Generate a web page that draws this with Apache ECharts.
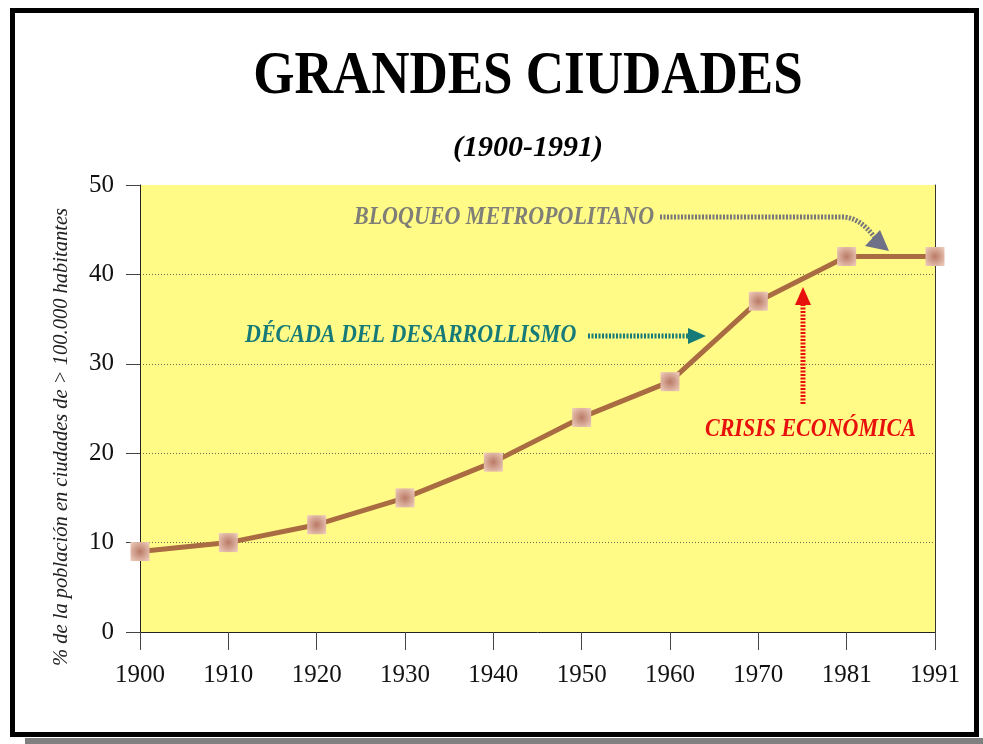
<!DOCTYPE html>
<html>
<head>
<meta charset="utf-8">
<script src="https://cdn.jsdelivr.net/npm/echarts@6/dist/echarts.min.js"></script>
<style>html,body{margin:0;padding:0;background:#fff;}#c{width:983px;height:744px;}</style>
</head>
<body>
<div id="c"></div>
<script>
const years = ['1900','1910','1920','1930','1940','1950','1960','1970','1981','1991'];
const values = [9, 10, 12, 15, 19, 24, 28, 37, 42, 42];
const yTicks = [0, 10, 20, 30, 40, 50];
const titleText = 'GRANDES CIUDADES';
const subtitleText = '(1900-1991)';
const yAxisTitle = '% de la población en ciudades de > 100.000 habitantes';
const noteBloqueo = 'BLOQUEO METROPOLITANO';
const noteDecada = 'DÉCADA DEL DESARROLLISMO';
const noteCrisis = 'CRISIS ECONÓMICA';

const SERIF = '"Liberation Serif", "Times New Roman", serif';
const chart = echarts.init(document.getElementById('c'), null, {renderer: 'canvas'});

const dotted = (color) => ({stroke: color, lineWidth: 5, lineDash: [2, 1.5], fill: null});

const option = {
  backgroundColor: '#ffffff',
  animation: false,
  grid: {
    left: 140, right: 48, top: 185, bottom: 112,
    show: true, backgroundColor: '#FFFB86', borderWidth: 0
  },
  xAxis: {
    type: 'category', data: years, boundaryGap: false,
    axisLine: {lineStyle: {color: '#222', width: 1}},
    axisTick: {show: true, length: 18, alignWithLabel: true, lineStyle: {color: '#444'}},
    axisLabel: {color: '#111', fontFamily: SERIF, fontSize: 25, margin: 31},
    splitLine: {show: false}
  },
  yAxis: [{
    type: 'value', min: yTicks[0], max: yTicks[yTicks.length - 1], interval: 10,
    axisLine: {show: true, lineStyle: {color: '#222', width: 1}},
    axisTick: {show: true, length: 14, lineStyle: {color: '#444'}},
    axisLabel: {color: '#111', fontFamily: SERIF, fontSize: 25, margin: 26},
    splitLine: {show: true, showMinLine: false, showMaxLine: false,
      lineStyle: {color: '#6b6b50', type: [1, 2], width: 1}}
  }, {
    type: 'value', position: 'right', min: yTicks[0], max: yTicks[yTicks.length - 1], interval: 10,
    axisLine: {show: true, lineStyle: {color: '#333', width: 1}},
    axisTick: {show: false}, axisLabel: {show: false}, splitLine: {show: false}
  }],
  series: [{
    type: 'line', data: values, yAxisIndex: 0,
    lineStyle: {color: '#A96B42', width: 5},
    symbol: 'rect', symbolSize: 19,
    itemStyle: {
      color: {type: 'radial', x: 0.5, y: 0.5, r: 0.72, colorStops: [
        {offset: 0, color: '#B97A66'}, {offset: 1, color: '#F3D3C4'}]},
      borderWidth: 0
    },
    z: 5
  }],
  graphic: [
    {type: 'rect', z: -10, silent: true, shape: {x: 12.5, y: 10.5, width: 964, height: 724},
      style: {fill: null, stroke: '#000', lineWidth: 5}},
    {type: 'rect', z: -10, silent: true, shape: {x: 25, y: 738, width: 958, height: 6},
      style: {fill: '#808080'}},
    {type: 'text', x: 528, y: 77, scaleX: 0.855, silent: true,
      style: {text: titleText, font: 'bold 62px ' + SERIF, fill: '#000', align: 'center', verticalAlign: 'middle'}},
    {type: 'text', x: 528, y: 148, silent: true,
      style: {text: subtitleText, font: 'italic bold 30px ' + SERIF, fill: '#000', align: 'center', verticalAlign: 'middle'}},
    {type: 'text', x: 62, y: 437, rotation: Math.PI / 2, silent: true,
      style: {text: yAxisTitle, font: 'italic 20.5px ' + SERIF, fill: '#222', align: 'center', verticalAlign: 'middle'}},
    {type: 'text', x: 354, y: 218, scaleX: 0.88, silent: true, z: 10,
      style: {text: noteBloqueo, font: 'italic bold 25px ' + SERIF, fill: '#7F7F77', align: 'left', verticalAlign: 'middle'}},
    {type: 'polyline', silent: true, z: 10, shape: {points: [[660, 217], [842, 217]]}, style: dotted('#77777A')},
    {type: 'bezierCurve', silent: true, z: 10, shape: {x1: 842, y1: 217, cpx1: 860, cpy1: 217, x2: 875, y2: 238}, style: dotted('#77777A')},
    {type: 'polygon', silent: true, z: 10, shape: {points: [[889, 251], [865, 246], [880, 230]]}, style: {fill: '#6E7088'}},
    {type: 'text', x: 245, y: 336, scaleX: 0.88, silent: true, z: 10,
      style: {text: noteDecada, font: 'italic bold 25px ' + SERIF, fill: '#167A78', align: 'left', verticalAlign: 'middle'}},
    {type: 'polyline', silent: true, z: 10, shape: {points: [[588, 336], [692, 336]]}, style: dotted('#167A78')},
    {type: 'polygon', silent: true, z: 10, shape: {points: [[706, 336], [688, 328], [688, 344]]}, style: {fill: '#167A78'}},
    {type: 'text', x: 705, y: 430, scaleX: 0.88, silent: true, z: 10,
      style: {text: noteCrisis, font: 'italic bold 25px ' + SERIF, fill: '#E8100C', align: 'left', verticalAlign: 'middle'}},
    {type: 'polyline', silent: true, z: 10, shape: {points: [[803, 404], [803, 302]]}, style: dotted('#E8100C')},
    {type: 'polygon', silent: true, z: 10, shape: {points: [[803, 287], [795, 305], [811, 305]]}, style: {fill: '#E8100C'}}
  ]
};
chart.setOption(option);
</script>
</body>
</html>
